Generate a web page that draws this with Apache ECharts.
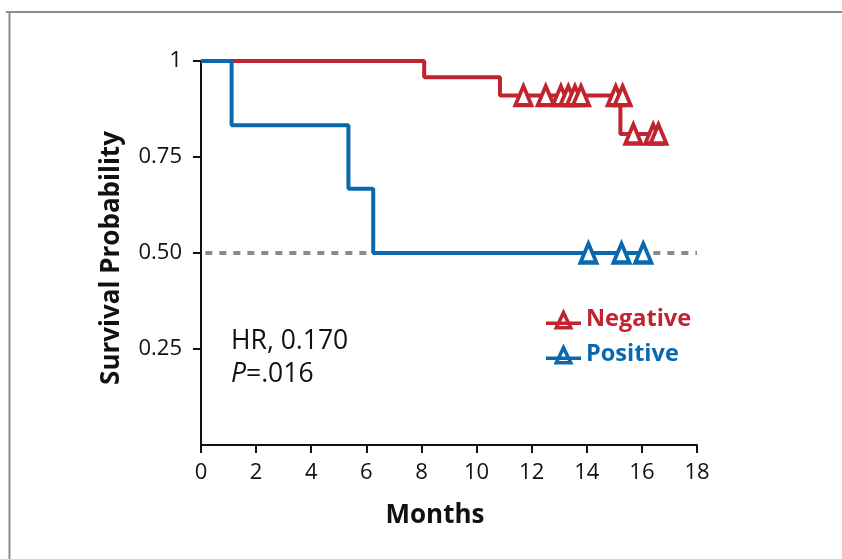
<!DOCTYPE html>
<html>
<head>
<meta charset="utf-8">
<script src="https://cdn.jsdelivr.net/npm/echarts@6/dist/echarts.min.js"></script>
<style>html,body{margin:0;padding:0;background:#fff}#c{width:842px;height:559px}</style>
</head>
<body>
<div id="c"></div>
<script>
// Kaplan-Meier step points [months, survival]
const negativeSteps = [[0, 1], [8.1, 0.958], [10.85, 0.91], [15.22, 0.81], [16.6, 0.81]];
const positiveSteps = [[0, 1], [1.11, 0.833], [5.35, 0.667], [6.25, 0.5], [16.05, 0.5]];
// censored observations
const negativeCensor = [[11.70, 0.91], [12.51, 0.91], [13.06, 0.91], [13.33, 0.91], [13.57, 0.91], [13.79, 0.91], [15.05, 0.91], [15.3, 0.91], [15.69, 0.81], [16.41, 0.81], [16.6, 0.81]];
const positiveCensor = [[14.06, 0.5], [15.26, 0.5], [16.05, 0.5]];
const medianLine = [[-0.35, 0.5], [18, 0.5]];
const xTicks = [0, 2, 4, 6, 8, 10, 12, 14, 16, 18];
const yTicks = [0.25, 0.5, 0.75, 1];
const annotation = ['HR, 0.170', '.016'];

const RED = '#C1232F';
const BLUE = '#0A68AE';
const FONT = '"Open Sans", "Noto Sans", sans-serif';
// legend icon: hollow triangle crossed by a line (nonzero fill rule)
const ICON = 'path://M17.5,0 L27.5,21 L7.5,21 Z M17.5,8.15 L13.05,17.5 L21.95,17.5 Z M0,13 L35,13 L35,16.5 L0,16.5 Z';

const chart = echarts.init(document.getElementById('c'), null, {renderer: 'canvas'});
chart.setOption({
  animation: false,
  backgroundColor: '#fff',
  grid: {left: 201, right: 145, top: 61, bottom: 114, containLabel: false},
  xAxis: {
    type: 'value', min: 0, max: 18, interval: 2,
    name: 'Months', nameLocation: 'middle', nameGap: 58,
    nameTextStyle: {fontFamily: FONT, fontWeight: 'bold', fontSize: 26, color: '#111', padding: [0, 28, 0, 0]},
    axisLine: {show: true, lineStyle: {color: '#111', width: 2}},
    axisTick: {show: true, length: 8, lineStyle: {color: '#111', width: 2}},
    axisLabel: {fontFamily: FONT, fontSize: 22, color: '#111', margin: 17,
      formatter: v => xTicks.includes(v) ? String(v) : ''},
    splitLine: {show: false}
  },
  yAxis: {
    type: 'value', min: 0, max: 1, interval: 0.25,
    name: 'Survival Probability', nameLocation: 'middle', nameGap: 76,
    nameTextStyle: {fontFamily: FONT, fontWeight: 'bold', fontSize: 26, color: '#111', padding: [0, 10, 0, 0]},
    axisLine: {show: true, onZero: false, lineStyle: {color: '#111', width: 2}},
    axisTick: {show: true, length: 8, customValues: yTicks, lineStyle: {color: '#111', width: 2}},
    axisLabel: {fontFamily: FONT, fontSize: 22, color: '#111', margin: 19, customValues: yTicks,
      formatter: v => (v === 1 ? '1' : v.toFixed(2))},
    splitLine: {show: false}
  },
  legend: {
    orient: 'vertical', left: 541, top: 302, itemWidth: 35, itemHeight: 21, itemGap: 11,
    icon: ICON,
    itemStyle: {borderWidth: 0},
    textStyle: {fontFamily: FONT, fontWeight: 'bold', fontSize: 23.5},
    data: [
      {name: 'Negative', textStyle: {color: RED}},
      {name: 'Positive', textStyle: {color: BLUE}}
    ]
  },
  series: [
    {type: 'line', name: 'median', data: medianLine, showSymbol: false, silent: true,
      lineStyle: {color: '#8a8a8a', width: 4, type: [7, 7]}, z: 1},
    {type: 'line', name: 'Negative', data: negativeSteps, step: 'end', showSymbol: false,
      itemStyle: {color: RED}, lineStyle: {color: RED, width: 4}, z: 2},
    {type: 'line', name: 'Positive', data: positiveSteps, step: 'end', showSymbol: false,
      itemStyle: {color: BLUE}, lineStyle: {color: BLUE, width: 4}, z: 3},
    {type: 'scatter', name: 'Negative', data: negativeCensor, symbol: 'triangle', symbolSize: [16, 19],
      itemStyle: {color: '#fff', borderColor: RED, borderWidth: 4, opacity: 1}, z: 4},
    {type: 'scatter', name: 'Positive', data: positiveCensor, symbol: 'triangle', symbolSize: [16, 19],
      itemStyle: {color: '#fff', borderColor: BLUE, borderWidth: 4, opacity: 1}, z: 5}
  ],
  graphic: [
    {type: 'line', shape: {x1: 6, y1: 12, x2: 842, y2: 12}, style: {stroke: '#8c8c8c', lineWidth: 2}},
    {type: 'line', shape: {x1: 9.5, y1: 12, x2: 9.5, y2: 559}, style: {stroke: '#8c8c8c', lineWidth: 2}},
    {type: 'text', left: 231, top: 328, style: {text: annotation[0], font: '26.5px ' + FONT, fill: '#111'}},
    {type: 'text', left: 231, top: 361, style: {
      text: '{i|P}{n|=' + annotation[1] + '}',
      rich: {i: {fontStyle: 'italic', fontSize: 26.5, fontFamily: FONT, fill: '#111'},
             n: {fontSize: 26.5, fontFamily: FONT, fill: '#111'}}
    }}
  ]
});
</script>
</body>
</html>
